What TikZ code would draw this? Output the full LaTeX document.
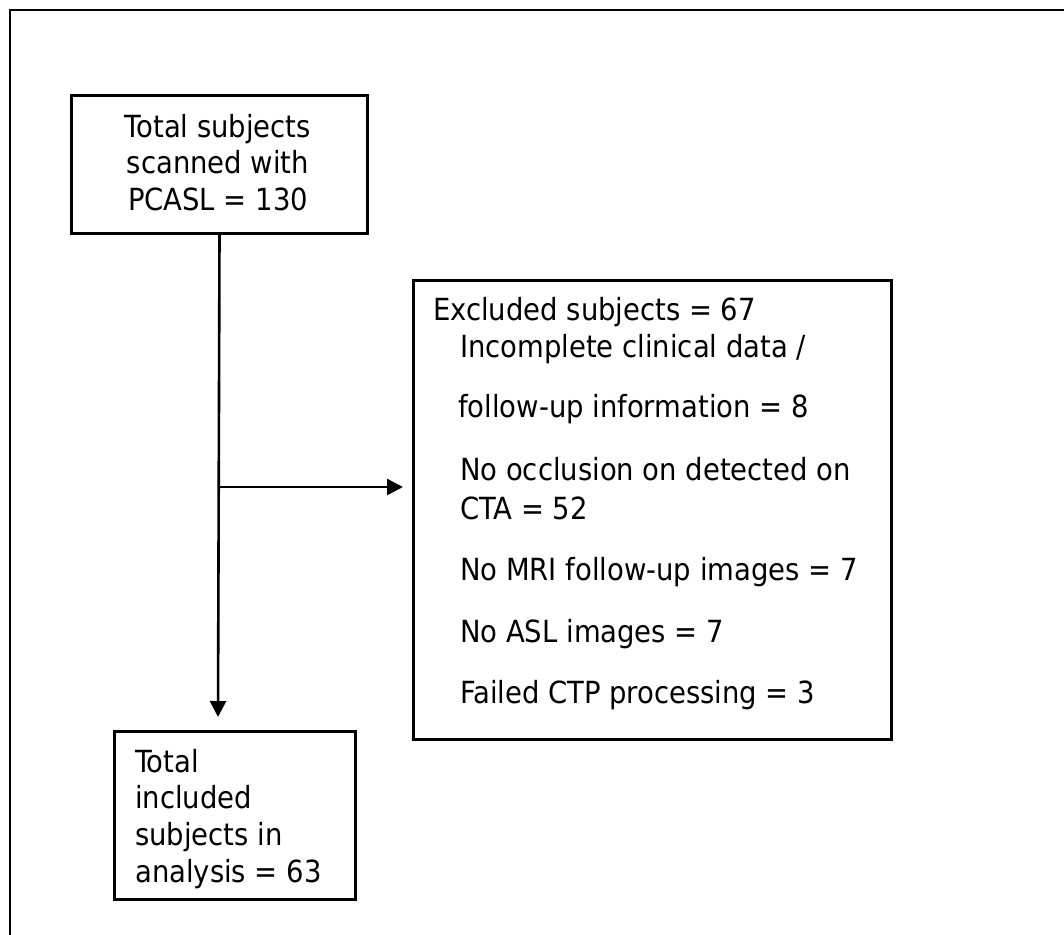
\documentclass[tikz,border=0pt]{standalone}
\usepackage{fontspec}
\newfontfamily\mainfnt{DejaVu Sans Condensed}
\usetikzlibrary{arrows.meta}
\tikzset{
  box/.style={draw, line width=3pt, inner sep=0pt, anchor=north west},
  txt/.style={anchor=base west, inner sep=0pt, font=\mainfnt\fontsize{30.5}{36}\selectfont},
  ctxt/.style={txt, anchor=base},
  arr/.style={line width=2.6pt, -{Triangle[length=16pt,width=16pt]}},
  frame/.style={line width=2.6pt}
}
\begin{document}
\begin{tikzpicture}[x=1pt,y=-1pt]
\useasboundingbox (0,0) rectangle (1064,934);
\clip (0,0) rectangle (1064,934);
\draw[frame] (10,950) -- (10,10) -- (1080,10);
% box 1
\node[box, minimum width=296pt, minimum height=138pt] (b1) at (70,94) {};
\node[ctxt] (t1a) at (218,137) {Total subjects};
\node[ctxt] (t1b) at (218,173) {scanned with};
\node[ctxt] (t1c) at (218,210) {PCASL = 130};
% box 2
\node[box, minimum width=478pt, minimum height=459pt] (b2) at (412,279) {};
\node[txt] (t2a) at (433,320) {Excluded subjects = 67};
\node[txt] (t2b) at (460,357) {Incomplete clinical data /};
\node[txt] (t2c) at (458,417) {follow-up information = 8};
\node[txt] (t2d) at (460,480) {No occlusion on detected on};
\node[txt] (t2e) at (460,519) {CTA = 52};
\node[txt] (t2f) at (460,580) {No MRI follow-up images = 7};
\node[txt] (t2g) at (460,642) {No ASL images = 7};
\node[txt] (t2h) at (460,703) {Failed CTP processing = 3};
% box 3
\node[box, minimum width=241pt, minimum height=168pt] (b3) at (113,730) {};
\node[txt] (t3a) at (135,772) {Total};
\node[txt] (t3b) at (135,808) {included};
\node[txt] (t3c) at (135,845) {subjects in};
\node[txt] (t3d) at (135,882) {analysis = 63};
% connectors
\coordinate (v1) at (218,717);
\draw[arr] (b1.south) -- (v1);
\coordinate (h0) at (218,487);
\coordinate (h1) at ([xshift=-9pt]b2.west |- h0);
\draw[arr] (h0) -- (h1);
\end{tikzpicture}
\end{document}
